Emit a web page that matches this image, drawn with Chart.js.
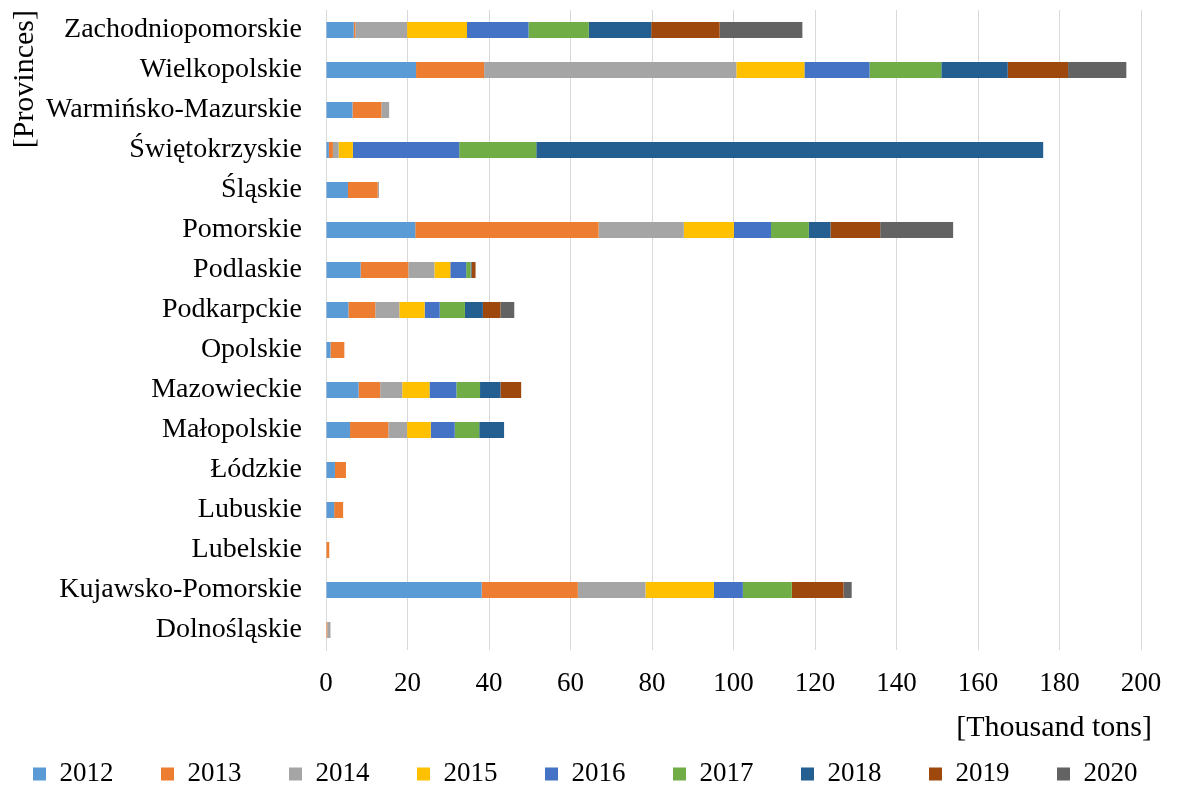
<!DOCTYPE html>
<html>
<head>
<meta charset="utf-8">
<script src="https://cdn.jsdelivr.net/npm/chart.js@4/dist/chart.umd.min.js"></script>
<style>
html,body{margin:0;padding:0;background:#fff;}
#wrap{width:1181px;height:787px;position:relative;}
</style>
</head>
<body>
<div id="wrap"><canvas id="c" width="1181" height="787"></canvas></div>
<script>
const provinces = ['Zachodniopomorskie','Wielkopolskie','Warmińsko-Mazurskie','Świętokrzyskie','Śląskie','Pomorskie','Podlaskie','Podkarpckie','Opolskie','Mazowieckie','Małopolskie','Łódzkie','Lubuskie','Lubelskie','Kujawsko-Pomorskie','Dolnośląskie'];
const years = ['2012','2013','2014','2015','2016','2017','2018','2019','2020'];
const y2012 = [6.8,22.1,6.5,0.7,5.4,21.9,8.5,5.5,1.1,8.0,5.9,2.2,2.0,0,38.2,0];
const y2013 = [0.4,16.7,7.1,1.0,7.3,45.0,11.7,6.6,3.4,5.3,9.4,2.7,2.2,0.8,23.6,0.3];
const y2014 = [12.7,61.9,1.9,1.4,0.3,20.9,6.4,5.9,0,5.4,4.6,0,0,0,16.6,0.8];
const y2015 = [14.7,16.7,0,3.5,0,12.3,3.9,6.2,0,6.7,5.8,0,0,0,16.8,0];
const y2016 = [15.1,16.0,0,26.1,0,9.1,3.9,3.7,0,6.6,5.9,0,0,0,7.1,0];
const y2017 = [14.8,17.6,0,18.9,0,9.3,1.1,6.2,0,5.8,6.0,0,0,0,12.0,0];
const y2018 = [15.3,16.3,0,124.4,0,5.3,0.2,4.4,0,5.0,6.1,0,0,0,0,0];
const y2019 = [16.8,14.8,0,0,0,12.2,1.0,4.3,0,5.1,0,0,0,0,12.7,0];
const y2020 = [20.3,14.3,0,0,0,17.9,0,3.4,0,0,0,0,0,0,2.0,0];
const seriesValues = [y2012,y2013,y2014,y2015,y2016,y2017,y2018,y2019,y2020];
const colors = ['#5B9BD5','#ED7D31','#A5A5A5','#FFC000','#4472C4','#70AD47','#255E91','#9E480E','#636363'];
const xTicks = [0,20,40,60,80,100,120,140,160,180,200];

const FONT = "'Liberation Serif','Times New Roman',serif";

const datasets = years.map((y,i)=>({
  label: y,
  data: seriesValues[i],
  backgroundColor: colors[i],
  borderWidth: 0,
  barPercentage: 0.4,
  categoryPercentage: 1.0,
  yAxisID: 'y'
}));

const LEG_PAD = 47.5, LEG_FONT = 27, LEG_CENTER = 774, LEG_BOX_H = 68;
const LEG_LEFT = -29.5, LEG_RIGHT = 1200;
const layoutTweaks = {
  id: 'layoutTweaks',
  beforeLayout(chart) {
    const lg = chart.legend;
    if (!lg || lg._patched) return;
    const orig = lg.fit.bind(lg);
    lg.fit = function () {
      const mw = this.maxWidth;
      this.maxWidth = 1600;
      orig();
      this.maxWidth = mw;
      this.width = mw;
      this.height = LEG_BOX_H;
    };
    lg._patched = true;
  },
  afterLayout(chart) {
    const lg = chart.legend;
    if (lg) {
      const newTop = LEG_CENTER - LEG_PAD - LEG_FONT / 2;
      lg.top = newTop;
      lg.bottom = newTop + lg.height;
      lg.left = LEG_LEFT;
      lg.right = LEG_RIGHT;
    }
    const xs = chart.scales.x;
    if (xs && !xs._tp) {
      const o = xs.drawTitle.bind(xs);
      xs.drawTitle = function () {
        const ctx = this.ctx;
        ctx.save(); ctx.translate(11, 0); o(); ctx.restore();
      };
      xs._tp = true;
    }
  }
};

new Chart(document.getElementById('c'), {
  type: 'bar',
  data: { labels: provinces, datasets },
  plugins: [layoutTweaks],
  options: {
    indexAxis: 'y',
    responsive: false,
    animation: false,
    devicePixelRatio: 1,
    layout: { padding: { top: 10, right: 0, left: 0, bottom: 0 } },
    plugins: {
      tooltip: { enabled: false },
      legend: {
        position: 'bottom',
        align: 'center',
        labels: {
          color: '#000',
          font: { family: FONT, size: LEG_FONT },
          boxWidth: 13,
          boxHeight: 13,
          padding: LEG_PAD
        }
      }
    },
    scales: {
      y: {
        stacked: true,
        position: 'left',
        afterFit: (s) => { s.width = 326; },
        grid: { display: false, drawTicks: true, tickLength: 24 },
        border: { display: true, color: '#d9d9d9', width: 1 },
        ticks: { color: '#000', font: { family: FONT, size: 28, lineHeight: 0.7 }, padding: 0, autoSkip: false },
        title: { display: true, text: '[Provinces]', align: 'end', color: '#000',
                 font: { family: FONT, size: 30 }, padding: { top: 7, bottom: 0 } }
      },
      yRight: {
        type: 'linear',
        position: 'right',
        display: true,
        afterFit: (s) => { s.width = 40; },
        grid: { display: false, drawTicks: false },
        border: { display: false },
        ticks: { display: false }
      },
      x: {
        stacked: true,
        min: 0, max: 200,
        afterBuildTicks: (s) => { s.ticks = xTicks.map(v=>({value:v})); },
        afterFit: (s) => { s.height = 69; },
        grid: { color: '#d9d9d9', lineWidth: 1, drawTicks: false },
        border: { display: false },
        ticks: { color: '#000', font: { family: FONT, size: 27 }, padding: 18, maxRotation: 0 },
        title: { display: true, text: '[Thousand tons]', align: 'end', color: '#000',
                 font: { family: FONT, size: 30 }, padding: { top: 0, bottom: -27 } }
      }
    }
  }
});
</script>
</body>
</html>
